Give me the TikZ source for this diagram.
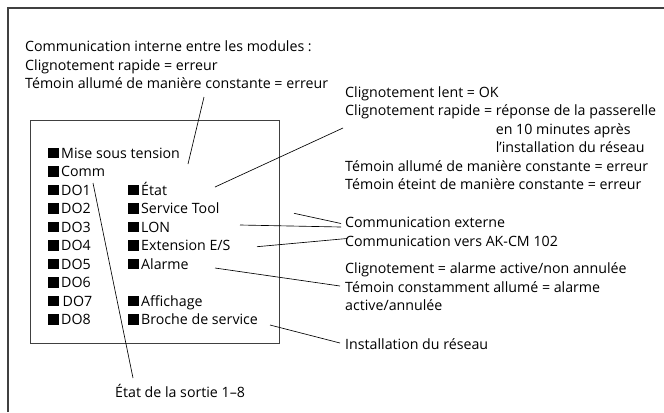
\documentclass[tikz,border=0pt]{standalone}
\usepackage{fontspec}
\setmainfont{Open Sans}
\newcommand{\ledsq}{\rule{10.5bp}{10.5bp}\hspace{2.5bp}}
\begin{document}
\begin{tikzpicture}[x=1bp,y=-1bp,
  lbl/.style={anchor=base west,inner sep=0pt,font=\fontsize{14.2bp}{17bp}\selectfont,text=black},
  leader/.style={draw=black,line width=0.65bp},
  frame/.style={draw=black!75,line width=1.1bp},
  ibox/.style={draw=black!75,line width=0.9bp}]
\useasboundingbox (0,0) rectangle (664,412);
% outer frame (only top and left visible)
\draw[frame] (8,412) -- (8,8) -- (664,8);
% inner module box
\node[ibox,inner sep=0pt,minimum width=249bp,minimum height=223bp,anchor=north west] (box) at (30,120) {};
% top-left block
\node[lbl] (t1) at (25,51.5) {Communication interne entre les modules :};
\node[lbl] (t2) at (25,70) {Clignotement rapide = erreur};
\node[lbl] (t3) at (25,88.5) {Témoin allumé de manière constante = erreur};
% left column
\node[lbl] (mise) at (48,158) {\ledsq Mise sous tension};
\node[lbl] (comm) at (48,176.5) {\ledsq Comm};
\node[lbl] (do1) at (48,195) {\ledsq DO1};
\node[lbl] (do2) at (48,213.5) {\ledsq DO2};
\node[lbl] (do3) at (48,232) {\ledsq DO3};
\node[lbl] (do4) at (48,250.5) {\ledsq DO4};
\node[lbl] (do5) at (48,269) {\ledsq DO5};
\node[lbl] (do6) at (48,287.5) {\ledsq DO6};
\node[lbl] (do7) at (48,306) {\ledsq\hspace{1.5bp}DO7};
\node[lbl] (do8) at (48,324.5) {\ledsq DO8};
% right column
\node[lbl] (etat) at (128,195) {\ledsq État};
\node[lbl] (stool) at (128,213.5) {\ledsq Service Tool};
\node[lbl] (lon) at (128,232) {\ledsq LON};
\node[lbl] (ext) at (128,250.5) {\ledsq Extension E/S};
\node[lbl] (alarme) at (128,269) {\ledsq Alarme};
\node[lbl] (aff) at (128,306) {\ledsq Affichage};
\node[lbl] (broche) at (128,324.5) {\ledsq Broche de service};
% right texts
\node[lbl] (r1) at (345,97) {Clignotement lent = OK};
\node[lbl] (r2) at (345,115.5) {Clignotement rapide = réponse de la passerelle};
\node[lbl] (r3) at (345,134) {\phantom{Clignotement rapide = }en 10 minutes après};
\node[lbl] (r4) at (345,152.5) {\phantom{Clignotement rapide = }l’installation du réseau};
\node[lbl] (r5) at (345,171) {Témoin allumé de manière constante = erreur};
\node[lbl] (r6) at (345,189.5) {Témoin éteint de manière constante = erreur};
\node[lbl] (ce1) at (345,227.5) {Communication externe};
\node[lbl] (ce2) at (345,246.5) {Communication vers AK-CM 102};
\node[lbl] (a1) at (345,273.5) {Clignotement = alarme active/non annulée};
\node[lbl] (a2) at (345,292) {Témoin constamment allumé = alarme};
\node[lbl] (a3) at (345,310.5) {active/annulée};
\node[lbl] (inst) at (345,349.5) {Installation du réseau};
\node[lbl] (sortie) at (115,397.5) {État de la sortie 1–8};
% leader line end points
\coordinate (p1a) at (204,97);   \coordinate (p1b) at (188,164);
\coordinate (p2a) at (215,187);  \coordinate (p2b) at (343,128);
\coordinate (p3a) at (294,213.3); \coordinate (p3b) at (341,223.5);
\coordinate (p4a) at (240,225);  \coordinate (p4b) at (341,227);
\coordinate (p5a) at (257,246.7); \coordinate (p5b) at (347,238.5);
\coordinate (p6a) at (215,268);  \coordinate (p6b) at (340,286);
\coordinate (p7a) at (270,325);  \coordinate (p7b) at (340,343);
\coordinate (p8a) at (93,183);   \coordinate (p8b) at (133,378);
\draw[leader] (p1a) -- (p1b);
\draw[leader] (p2a) -- (p2b);
\draw[leader] (p3a) -- (p3b);
\draw[leader] (p4a) -- (p4b);
\draw[leader] (p5a) -- (p5b);
\draw[leader] (p6a) -- (p6b);
\draw[leader] (p7a) -- (p7b);
\draw[leader] (p8a) -- (p8b);
\end{tikzpicture}
\end{document}
